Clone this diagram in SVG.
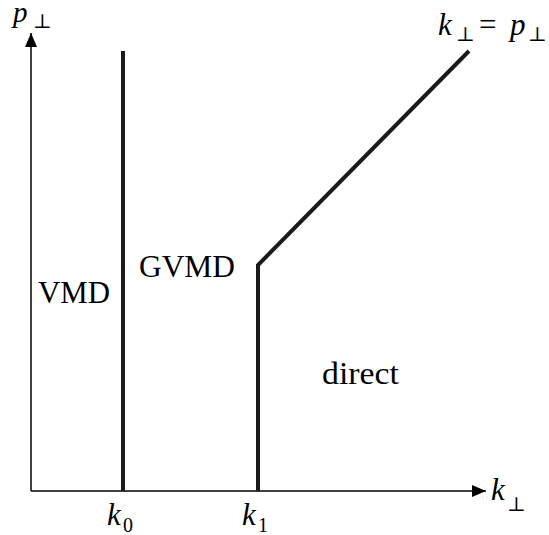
<svg xmlns="http://www.w3.org/2000/svg" width="549" height="535" viewBox="0 0 549 535">
<style>
.t{font-family:"Liberation Serif","DejaVu Serif",serif;font-size:31px;fill:#000}
.i{font-style:italic}
.s{font-size:20px;font-style:normal}
.ax{stroke:#000;stroke-width:1.5;fill:none}
.th{stroke:#1a1a1a;stroke-width:4;fill:none}
</style>
<defs>
<marker id="ah" viewBox="0 0 10 10" refX="10" refY="5" markerWidth="14" markerHeight="12" markerUnits="userSpaceOnUse" orient="auto" preserveAspectRatio="none">
<path d="M0,0 L10,5 L0,10 z" fill="#000"/>
</marker>
</defs>
<g id="connectors">
<line class="ax" x1="31" y1="491" x2="31" y2="33" marker-end="url(#ah)"/>
<line class="ax" x1="31" y1="491" x2="486" y2="491" marker-end="url(#ah)"/>
<line class="th" x1="123" y1="51" x2="123" y2="491"/>
<polyline class="th" points="258,491 258,265 469,51"/>
</g>
<g id="labels">
<text class="t i" x="13" y="22" style="font-size:29px">p</text>
<text class="t s" x="33" y="28">⊥</text>
<text class="t i" x="438" y="35">k</text>
<text class="t s" x="456" y="41">⊥</text>
<text class="t" x="479" y="35">=</text>
<text class="t i" x="510" y="35">p</text>
<text class="t s" x="528" y="41">⊥</text>
<text class="t i" x="491" y="500">k</text>
<text class="t s" x="507" y="511">⊥</text>
<text class="t i" x="107" y="525">k</text>
<text class="t s" x="123" y="532">0</text>
<text class="t i" x="242" y="525">k</text>
<text class="t s" x="258" y="532">1</text>
</g>
<g id="VMD"><text class="t" x="38" y="303" textLength="72" lengthAdjust="spacingAndGlyphs">VMD</text></g>
<g id="GVMD"><text class="t" x="139" y="277" textLength="96" lengthAdjust="spacingAndGlyphs">GVMD</text></g>
<g id="direct"><text class="t" x="322" y="384" textLength="77" lengthAdjust="spacingAndGlyphs">direct</text></g>
</svg>
